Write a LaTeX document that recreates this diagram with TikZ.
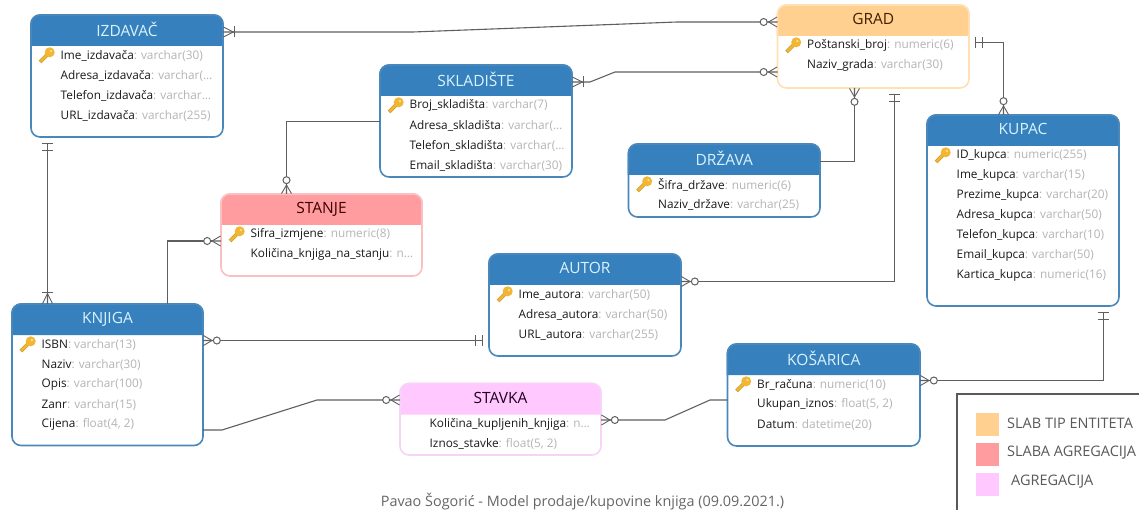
\documentclass[tikz,border=0pt]{standalone}
\usepackage{fontspec}
\setmainfont{Open Sans}
\usepackage{xcolor}
\usetikzlibrary{arrows.meta,positioning,calc}
\definecolor{headblue}{HTML}{3680BE}
\definecolor{edgeblue}{HTML}{4A88BC}
\definecolor{headorange}{HTML}{FFD08F}
\definecolor{edgeorange}{HTML}{FFE0B5}
\definecolor{headred}{HTML}{FF9C9F}
\definecolor{edgered}{HTML}{F9C0C2}
\definecolor{headpink}{HTML}{FFC9FF}
\definecolor{edgepink}{HTML}{F6D4F6}
\definecolor{relgray}{HTML}{5F5F5F}
\definecolor{typegray}{HTML}{B4B4B4}
\definecolor{keygold}{HTML}{F2B632}
\tikzset{
      zm/.tip = {Circle[open,fill=white,length=8pt,width=8pt,line width=1pt] Straight Barb[reversed,length=8.5pt,width=10pt,line width=.9pt,sep=-8.5pt] Butt Cap[length=8.5pt]},
      om/.tip = {Bar[width=11pt,line width=1pt,sep=0pt] Straight Barb[reversed,length=10pt,width=10pt,line width=.9pt,sep=-10pt] Butt Cap[length=10pt]},
      oo/.tip = {Bar[width=11pt,line width=1pt,sep=6pt] Bar[width=11pt,line width=1pt,sep=6pt]},
      rel/.style = {relgray, line width=1.1pt},
      entbox/.style = {draw, fill=white, line width=1.6pt, rounded corners=9pt, inner sep=0pt, outer sep=0pt, anchor=north west},
      enttitle/.style = {font=\fontsize{15.5}{17}\selectfont, inner sep=0pt},
      entrow/.style = {font=\fontsize{11.8}{13}\selectfont, inner sep=0pt, anchor=west, text=black!90},
      lgswatch/.style = {minimum width=23pt, minimum height=23pt, inner sep=0pt, outer sep=0pt},
      lgtext/.style = {font=\fontsize{14.5}{16}\selectfont, inner sep=0pt, anchor=west, text=black!65},
      keyicon/.pic = {
        \draw[keygold!85!black, line width=3.6pt] (1,-1) -- (-6.5,6.5);
        \fill[keygold] (3.2,-3.2) circle (5pt);
        \draw[keygold, line width=2.4pt] (1,-1) -- (-6,6);
        \fill[keygold!45!white] (4.4,-4.4) circle (1.3pt);
      },
    }
% name, left, top, right, bottom, colours, title, rows
\newcommand{\entity}[9]{
  \node[entbox, draw=#7, minimum width={(#4-#2)*1pt}, minimum height={(#5-#3)*1pt}] (#1) at (#2,#3) {};
  \fill[#6, rounded corners=9pt] (#2,#3+31) -- (#2,#3) -- (#4,#3) [sharp corners] -- (#4,#3+31) -- cycle;
  \draw[#7, line width=1.6pt, rounded corners=9pt] (#2,#3+31) -- (#2,#3) -- (#4,#3) [sharp corners] -- (#4,#3+31);
  \node[enttitle, text=#8] (#1-title) at ({(#2+#4)/2},#3+16.5) {\strut #9};
  \entityrows{#1}{#2}{#3}
}
\newcommand{\entityrows}[4]{
  \foreach \attname/\atttype [count=\rownum] in {#4}
    \node[entrow] (#1-\rownum) at (#2+29.5,#3+20.5+20*\rownum) {\attname\textcolor{typegray}{: \atttype}};
}
\begin{document}
\begin{tikzpicture}[x=1pt,y=-1pt]
  \useasboundingbox[fill=white] (0,0) rectangle (1139,510);

  \entity{izdavac}{31}{15}{223}{137}{headblue}{edgeblue}{white!85!cyan}{IZDAVAČ}
    {Ime\_izdavača/varchar(30), Adresa\_izdavača/varchar(…, Telefon\_izdavača/varchar…, URL\_izdavača/varchar(255)}
  \entity{skladiste}{380}{65}{572}{177}{headblue}{edgeblue}{white!85!cyan}{SKLADIŠTE}
    {Broj\_skladišta/varchar(7), Adresa\_skladišta/varchar(…, Telefon\_skladišta/varchar(…, Email\_skladišta/varchar(30)}
  \entity{stanje}{221}{194}{422}{276}{headred}{edgered}{black!75!red}{STANJE}
    {Sifra\_izmjene/numeric(8), Količina\_knjiga\_na\_stanju/n…}
  \entity{grad}{777.5}{5}{969}{88}{headorange}{edgeorange}{black!75!orange}{GRAD}
    {Poštanski\_broj/numeric(6), Naziv\_grada/varchar(30)}
  \entity{drzava}{628.5}{144}{820}{217}{headblue}{edgeblue}{white!85!cyan}{DRŽAVA}
    {Šifra\_države/numeric(6), Naziv\_države/varchar(25)}
  \entity{kupac}{927}{115}{1119}{306}{headblue}{edgeblue}{white!85!cyan}{KUPAC}
    {ID\_kupca/numeric(255), Ime\_kupca/varchar(15), Prezime\_kupca/varchar(20), Adresa\_kupca/varchar(50), Telefon\_kupca/varchar(10), Email\_kupca/varchar(50), Kartica\_kupca/numeric(16)}
  \entity{knjiga}{12}{304}{203}{445.5}{headblue}{edgeblue}{white!85!cyan}{KNJIGA}
    {ISBN/varchar(13), Naziv/varchar(30), Opis/varchar(100), Zanr/varchar(15), Cijena/{float(4, 2)}}
  \entity{autor}{489}{254}{681}{356}{headblue}{edgeblue}{white!85!cyan}{AUTOR}
    {Ime\_autora/varchar(50), Adresa\_autora/varchar(50), URL\_autora/varchar(255)}
  \entity{stavka}{400}{383.5}{601}{455}{headpink}{edgepink}{black!75!violet}{STAVKA}
    {Količina\_kupljenih\_knjiga/n…, Iznos\_stavke/{float(5, 2)}}
  \entity{kosarica}{727.5}{344}{920}{446}{headblue}{edgeblue}{white!85!cyan}{KOŠARICA}
    {Br\_računa/numeric(10), Ukupan\_iznos/{float(5, 2)}, Datum/datetime(20)}

  \pic at ([xshift=-14pt]izdavac-1.west) {keyicon};
  \pic at ([xshift=-14pt]skladiste-1.west) {keyicon};
  \pic at ([xshift=-14pt]stanje-1.west) {keyicon};
  \pic at ([xshift=-14pt]grad-1.west) {keyicon};
  \pic at ([xshift=-14pt]drzava-1.west) {keyicon};
  \pic at ([xshift=-14pt]kupac-1.west) {keyicon};
  \pic at ([xshift=-14pt]knjiga-1.west) {keyicon};
  \pic at ([xshift=-14pt]autor-1.west) {keyicon};
  \pic at ([xshift=-14pt]kosarica-1.west) {keyicon};

  \draw[rel, om-zm] (izdavac.east |- 0,32) -- (413,32) -- (677,22) -- (grad.west |- 0,22);
  \draw[rel, om-zm] (skladiste.east |- 0,82) -- (590,82) -- (615,72) -- (grad.west |- 0,72);
  \draw[rel, -zm] (skladiste.west |- 0,121.5) -| (stanje.north -| 286.5,0);
  \draw[rel, oo-om] (izdavac.south -| 47.5,0) -- (knjiga.north -| 47.5,0);
  \draw[rel, -zm] (knjiga.north -| 167.5,0) |- (stanje.west |- 0,241);
  \draw[rel, zm-oo] (knjiga.east |- 0,340.5) -- (autor.west |- 0,340.5);
  \draw[rel, -zm] (knjiga.east |- 0,430) -- (222,430) -- (317,400) -- (stavka.west |- 0,400);
  \draw[rel, zm-] (stavka.east |- 0,420) -- (665,420) -- (710,400) -- (kosarica.west |- 0,400);
  \draw[rel, zm-oo] (kosarica.east |- 0,380.5) -| (kupac.south -| 1103.5,0);
  \draw[rel, zm-oo] (autor.east |- 0,281.5) -| (grad.south -| 894.5,0);
  \draw[rel, -zm] (drzava.east |- 0,161.5) -| (grad.south -| 854.5,0);
  \draw[rel, oo-zm] (grad.east |- 0,42.5) -| (kupac.north -| 1003.5,0);

  \node[draw=black!65, line width=2pt, anchor=north west, minimum width=200pt, minimum height=130pt, outer sep=0pt] (legend) at (957,394) {};
  \node[lgswatch, fill=headorange] (lgweak) at (987.5,424.5) {};
  \node[lgswatch, fill=headred] (lgweakagg) at (987.5,454.5) {};
  \node[lgswatch, fill=headpink] (lgagg) at (987.5,484.5) {};
  \node[lgtext] (lgweaktext) at (1007,423) {SLAB TIP ENTITETA};
  \node[lgtext] (lgweakaggtext) at (1007,453) {SLABA AGREGACIJA};
  \node[lgtext] (lgaggtext) at (1011,482) {AGREGACIJA};

  \node[font=\fontsize{14.4}{16}\selectfont, inner sep=0pt, text=black!60] (caption) at (582.5,502) {Pavao Šogorić - Model prodaje/kupovine knjiga (09.09.2021.)};
\end{tikzpicture}
\end{document}
